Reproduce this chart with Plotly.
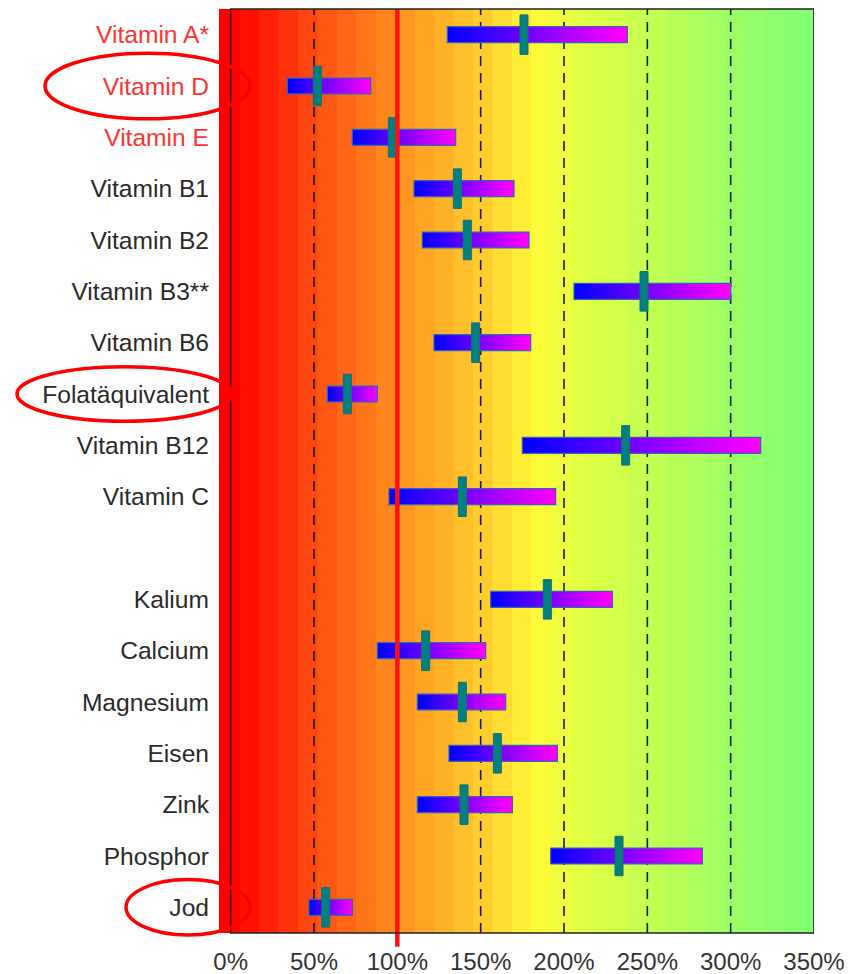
import plotly.graph_objects as go

# ---------------- data ----------------
nutrients = ["Vitamin A*", "Vitamin D", "Vitamin E", "Vitamin B1", "Vitamin B2",
             "Vitamin B3**", "Vitamin B6", "Folatäquivalent", "Vitamin B12", "Vitamin C",
             "Kalium", "Calcium", "Magnesium", "Eisen", "Zink", "Phosphor", "Jod"]
group = ["Vitamine"] * 10 + ["Mineralstoffe"] * 7
low = [130, 34, 73, 110, 115, 206, 122, 58, 175, 95, 156, 88, 112, 131, 112, 192, 47]
high = [238, 84, 135, 170, 179, 300, 180, 88, 318, 195, 229, 153, 165, 196, 169, 283, 73]
median = [176, 52, 97, 136, 142, 248, 147, 70, 237, 139, 190, 117, 139, 160, 140, 233, 57]
red_labels = ["Vitamin A*", "Vitamin D", "Vitamin E"]
circled = ["Vitamin D", "Folatäquivalent", "Jod"]
x_ticks = [0, 50, 100, 150, 200, 250, 300, 350]
x_tick_labels = [f"{v}%" for v in x_ticks]
dashed_at = [50, 150, 200, 250, 300]
reference_line = 100

# ---------------- layout geometry ----------------
OFF = 8  # page body margin
W, H = 852 - OFF, 974 - OFF
ML, MR, MT, MB = 219 - OFF, 38, 9 - OFF, 41
XR = [-7, 350]
ypos = []
for i, g in enumerate(group):
    ypos.append(i + (1 if g == "Mineralstoffe" else 0))
YR = [max(ypos) + 0.5, -0.5]


def lerp(a, b, t):
    return a + (b - a) * t


def rgb(c):
    return "rgb(%d,%d,%d)" % tuple(int(round(v)) for v in c)


ramp = [(0, (255, 8, 0)), (50, (255, 84, 20)), (100, (255, 152, 32)),
        (150, (255, 212, 48)), (178, (255, 250, 56)), (200, (230, 255, 66)),
        (250, (192, 255, 84)), (300, (152, 255, 104)), (350, (126, 255, 118))]


def ramp_color(p):
    if p <= ramp[0][0]:
        return ramp[0][1]
    for (p0, c0), (p1, c1) in zip(ramp[:-1], ramp[1:]):
        if p <= p1:
            t = (p - p0) / (p1 - p0)
            return tuple(lerp(a, b, t) for a, b in zip(c0, c1))
    return ramp[-1][1]


shapes = []
band_w = 11.67
start = -6.3
k = 0
while start + k * band_w < XR[1]:
    x0 = max(XR[0], start + k * band_w) if k > 0 else XR[0]
    c = (255, 0, 0) if k == 0 else ramp_color(start + (k + 0.5) * band_w - 6)
    # each band runs to the right edge; later bands paint over -> no seams
    shapes.append(dict(type="rect", xref="x", yref="paper", x0=x0, x1=XR[1], y0=0, y1=1,
                       fillcolor=rgb(c), line=dict(width=0), layer="below"))
    k += 1

for v in dashed_at:
    shapes.append(dict(type="line", xref="x", yref="paper", x0=v, x1=v, y0=0, y1=1,
                       line=dict(color="#1a1a1a", width=1.6, dash="10px,7px"), layer="below"))
shapes.append(dict(type="line", xref="x", yref="paper", x0=reference_line, x1=reference_line,
                   y0=-0.015, y1=1, line=dict(color="#ff1010", width=4.5), layer="above"))
shapes.append(dict(type="rect", xref="x", yref="paper", x0=0, x1=350, y0=0, y1=1,
                   line=dict(color="#222", width=1.6), layer="above"))

# ellipse horizontal extents in page pixels
ellipse_x = {"Vitamin D": (45, 250), "Folatäquivalent": (17, 232), "Jod": (126, 250)}
ellipse_h = {"Vitamin D": 0.64, "Folatäquivalent": 0.53, "Jod": 0.54}
pw = W - ML - MR
for name in circled:
    yi = ypos[nutrients.index(name)]
    yc = (YR[0] - yi) / (YR[0] - YR[1])
    hh = ellipse_h[name] / (YR[0] - YR[1])
    xa, xb = ellipse_x[name]
    shapes.append(dict(type="circle", xref="paper", yref="paper",
                       x0=(xa - OFF - ML) / pw, x1=(xb - OFF - ML) / pw,
                       y0=yc - hh, y1=yc + hh,
                       line=dict(color="#ff0000", width=3.5), layer="above"))

fig = go.Figure()

N = 40
seg_y, seg_base, seg_len, seg_col = [], [], [], []
for lo, hi, y in zip(low, high, ypos):
    span = hi - lo
    for s in range(N):
        t = s / (N - 1)
        seg_y.append(y)
        seg_base.append(lo + span * s / N)
        seg_len.append(span * (N - s) / N)
        seg_col.append(rgb((lerp(0, 255, t), 0, 255)))
fig.add_trace(go.Bar(orientation="h", y=seg_y, base=seg_base, x=seg_len, width=0.31,
                     marker=dict(color=seg_col, line=dict(width=0)),
                     hoverinfo="skip", showlegend=False))
fig.add_trace(go.Bar(orientation="h", y=ypos, base=low, x=[h - l for l, h in zip(low, high)],
                     width=0.31, marker=dict(color="rgba(0,0,0,0)",
                                             line=dict(color="#3462b8", width=1.2)),
                     customdata=high, hovertemplate="%{base}% – %{customdata}%<extra></extra>",
                     showlegend=False))
mw = 4.8
fig.add_trace(go.Bar(orientation="h", y=ypos, base=[m - mw / 2 for m in median],
                     x=[mw] * len(median), width=0.77,
                     marker=dict(color="#008080", line=dict(color="#1b6f6f", width=1)),
                     customdata=median, hovertemplate="Median %{customdata}%<extra></extra>",
                     showlegend=False))

ticktext = []
for n in nutrients:
    if n in red_labels:
        ticktext.append(f'<span style="color:#ff3333">{n}</span>')
    else:
        ticktext.append(n)

fig.update_layout(
    width=W, height=H,
    margin=dict(l=ML, r=MR, t=MT, b=MB, autoexpand=False),
    paper_bgcolor="white", plot_bgcolor="white",
    barmode="overlay",
    font=dict(family="Arial, Liberation Sans, sans-serif", size=24.6, color="#2a2a2a"),
    shapes=shapes,
    xaxis=dict(range=XR, tickvals=x_ticks, ticktext=x_tick_labels, showgrid=False,
               zeroline=False, showline=False, ticks="", ticklabelstandoff=12,
               automargin=False, tickfont=dict(size=24, color="#333")),
    yaxis=dict(range=YR, tickvals=ypos, ticktext=ticktext, showgrid=False,
               zeroline=False, showline=False, ticks="", ticklabelstandoff=9,
               automargin=False, tickfont=dict(size=24.6, color="#2a2a2a")),
)

fig.write_html("out.html")
